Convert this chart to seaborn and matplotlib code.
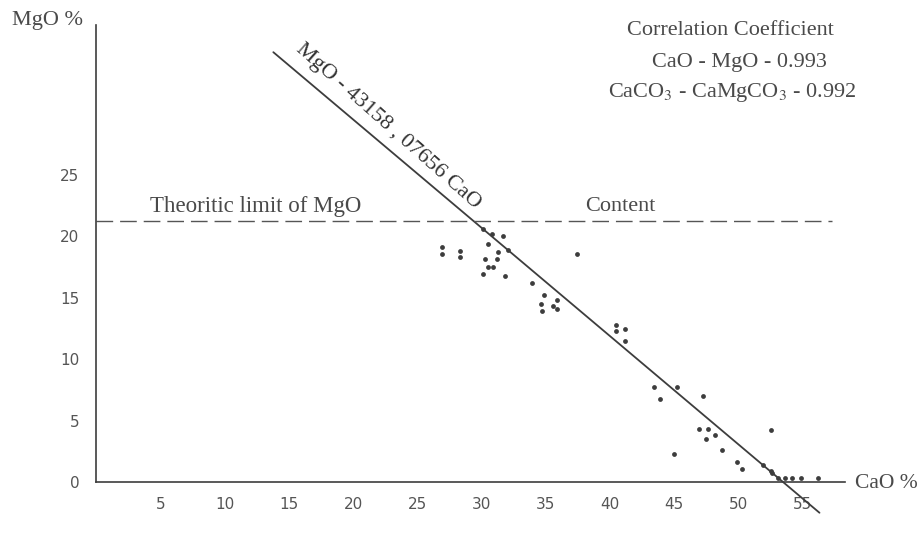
# %%
import pandas as pd
import seaborn as sns
import matplotlib.pyplot as plt

# %%
cao = [26.9, 26.9, 28.3, 28.3, 30.1, 30.8, 31.7, 30.5, 31.3, 32.1, 30.3, 31.2,
       30.5, 30.9, 30.1, 31.8, 33.9, 34.9, 34.6, 35.6, 35.9, 35.9, 34.7, 37.4,
       40.5, 40.5, 41.2, 41.2, 43.4, 45.2, 43.9, 47.2, 46.9, 47.6, 48.2, 47.5,
       48.7, 45.0, 49.9, 50.3, 52.5, 51.9, 52.5, 52.6, 53.1, 53.6, 54.2, 54.9,
       56.2]
mgo = [19.1, 18.6, 18.8, 18.3, 20.6, 20.2, 20.0, 19.4, 18.7, 18.9, 18.2, 18.2,
       17.5, 17.5, 16.9, 16.8, 16.2, 15.2, 14.5, 14.3, 14.8, 14.1, 13.9, 18.6,
       12.8, 12.3, 12.5, 11.5, 7.7, 7.7, 6.8, 7.0, 4.3, 4.3, 3.8, 3.5,
       2.6, 2.3, 1.6, 1.1, 4.2, 1.4, 0.9, 0.7, 0.3, 0.3, 0.3, 0.3,
       0.3]

fit_cao = [13.8, 56.3]
fit_mgo = [35.0, -2.5]
mgo_limit = 21.25

x_ticks = [5, 10, 15, 20, 25, 30, 35, 40, 45, 50, 55]
y_ticks = [0, 5, 10, 15, 20, 25]

corr_title = "Correlation Coefficient"
corr_1 = "CaO - MgO - 0.993"
corr_2 = "CaCO$_3$ - CaMgCO$_3$ - 0.992"
fit_label = "MgO - 43158 , 07656 CaO"

df = pd.DataFrame({"CaO": cao, "MgO": mgo})

# %%
sns.set_style("white")
plt.rcParams["mathtext.fontset"] = "stix"
ink = "#3d3d3d"
txt = "#4a4a4a"
serif = "Liberation Serif"

fig = plt.figure(figsize=(9.21, 5.34), dpi=100)
ax = fig.add_axes([0, 0, 1, 1])
ax.set_xlim(-7.47, 64.2)
ax.set_ylim(-4.23, 39.25)

sns.scatterplot(data=df, x="CaO", y="MgO", ax=ax, s=12, color=ink, linewidth=0)
sns.lineplot(x=fit_cao, y=fit_mgo, ax=ax, color=ink, linewidth=1.3)
ax.plot([0, 57.3], [mgo_limit, mgo_limit], color="#555555", linewidth=1.0,
        linestyle=(0, (12, 5)))

# axes drawn through the origin like the hand drawing
for side in ["top", "right"]:
    ax.spines[side].set_visible(False)
ax.spines["left"].set_position(("data", 0))
ax.spines["bottom"].set_position(("data", 0))
ax.spines["left"].set_bounds(0, 37.2)
ax.spines["bottom"].set_bounds(0, 58.3)
for side in ["left", "bottom"]:
    ax.spines[side].set_color(ink)
    ax.spines[side].set_linewidth(1.2)

ax.set_xticks(x_ticks)
ax.set_yticks(y_ticks)
ax.tick_params(axis="both", direction="out", length=4, width=1, color=ink,
               labelsize=11, labelcolor="#555555")
ax.tick_params(axis="x", pad=7)
ax.tick_params(axis="y", pad=8)
ax.set_xlabel("")
ax.set_ylabel("")

ax.text(-3.74, 37.6, "MgO %", family=serif, fontsize=16, color=txt,
        ha="center", va="center")
ax.text(59.1, -0.1, "CaO %", family=serif, fontsize=15.5, color=txt,
        ha="left", va="center")
ax.text(49.4, 36.8, corr_title, family=serif, fontsize=16, color=txt,
        ha="center", va="center")
ax.text(50.1, 34.2, corr_1, family=serif, fontsize=16, color=txt,
        ha="center", va="center")
ax.text(49.5, 31.7, corr_2, family=serif, fontsize=16, color=txt,
        ha="center", va="center")
ax.text(12.4, 22.4, "Theoritic limit of MgO", family=serif, fontsize=16.5,
        color=txt, ha="center", va="center")
ax.text(40.8, 22.4, "Content", family=serif, fontsize=16, color=txt,
        ha="center", va="center")
ax.text(22.7, 29.0, fit_label, family=serif, fontsize=16, color="#333333",
        ha="center", va="center", rotation=-41.5, rotation_mode="anchor")

fig.savefig("out.png", dpi=100)
